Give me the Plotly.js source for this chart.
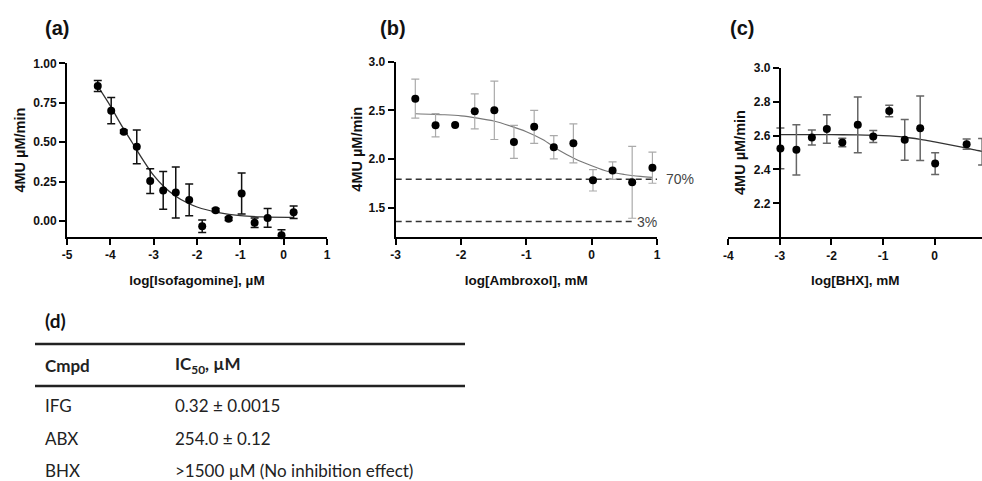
<!DOCTYPE html>
<html>
<head>
<meta charset="utf-8">
<script src="https://cdn.plot.ly/plotly-3.0.1.min.js"></script>
<style>
html,body{margin:0;padding:0;background:#fff;}
#chart{width:982px;height:481px;}
</style>
</head>
<body>
<div id="chart"></div>
<script>
// ---------- Panel (a): Isofagomine ----------
var xA = [-4.29, -3.98, -3.69, -3.39, -3.08, -2.78, -2.49, -2.18, -1.88, -1.57, -1.27, -0.97, -0.67, -0.37, -0.05, 0.23];
var yA = [0.856, 0.700, 0.567, 0.471, 0.254, 0.195, 0.182, 0.135, -0.032, 0.070, 0.015, 0.175, -0.010, 0.021, -0.089, 0.057];
var errA = [0.035, 0.083, 0.010, 0.107, 0.078, 0.120, 0.162, 0.100, 0.040, 0.010, 0.010, 0.130, 0.030, 0.060, 0.035, 0.040];
var fitAx = [-4.29, -4.0, -3.75, -3.5, -3.25, -3.0, -2.75, -2.5, -2.25, -2.0, -1.5, -1.0, -0.5, 0.23];
var fitAy = [0.855, 0.73, 0.61, 0.50, 0.39, 0.29, 0.215, 0.16, 0.12, 0.09, 0.055, 0.035, 0.027, 0.024];

// ---------- Panel (b): Ambroxol ----------
var xB = [-2.70, -2.39, -2.09, -1.79, -1.49, -1.19, -0.88, -0.58, -0.28, 0.02, 0.32, 0.62, 0.93];
var yB = [2.62, 2.346, 2.35, 2.49, 2.50, 2.175, 2.33, 2.12, 2.16, 1.78, 1.88, 1.76, 1.91];
var errB = [0.20, 0.12, 0.01, 0.18, 0.30, 0.17, 0.17, 0.12, 0.20, 0.11, 0.09, 0.37, 0.16];
var fitBx = [-2.7, -2.25, -2.0, -1.75, -1.5, -1.25, -1.0, -0.75, -0.5, -0.25, 0.0, 0.25, 0.5, 0.75, 0.93];
var fitBy = [2.465, 2.454, 2.443, 2.42, 2.39, 2.34, 2.28, 2.20, 2.09, 2.00, 1.93, 1.87, 1.84, 1.82, 1.81];
var ref70x = [-3, 1];
var ref70y = [1.79, 1.79];
var ref3x = [-3, 0.62];
var ref3y = [1.356, 1.356];
var refLabels = ['70%', '3%'];

// ---------- Panel (c): BHX ----------
var xC = [-2.99, -2.68, -2.38, -2.09, -1.79, -1.49, -1.19, -0.88, -0.58, -0.28, 0.01, 0.62, 0.92];
var yC = [2.524, 2.516, 2.588, 2.639, 2.559, 2.663, 2.594, 2.745, 2.575, 2.643, 2.435, 2.549, 2.504];
var errC = [0.12, 0.148, 0.044, 0.084, 0.025, 0.164, 0.035, 0.034, 0.12, 0.19, 0.064, 0.03, 0.078];
var fitCx = [-3.0, -2.0, -1.5, -1.0, -0.75, -0.5, -0.25, 0.0, 0.25, 0.5, 0.75, 0.92];
var fitCy = [2.605, 2.605, 2.604, 2.600, 2.595, 2.587, 2.576, 2.562, 2.548, 2.533, 2.517, 2.507];

// ---------- Tick labels ----------
var ticksAx = [-5, -4, -3, -2, -1, 0, 1];
var ticksAy = [0, 0.25, 0.5, 0.75, 1.0];
var ticksBx = [-3, -2, -1, 0, 1];
var ticksBy = [1.5, 2.0, 2.5, 3.0];
var ticksCx = [-4, -3, -2, -1, 0, 1];
var ticksCy = [2.2, 2.4, 2.6, 2.8, 3.0];

// ---------- Panel titles ----------
var panelLabels = ['(a)', '(b)', '(c)', '(d)'];
var xTitles = ['log[Isofagomine], µM', 'log[Ambroxol], mM', 'log[BHX], mM'];
var yTitle = '4MU µM/min';

// ---------- Table (d) ----------
var tableHeader = ['Cmpd', 'IC<sub>50</sub>, µM'];
var tableCmpd = ['IFG', 'ABX', 'BHX'];
var tableIC50 = ['0.32 ± 0.0015', '254.0 ± 0.12', '>1500 µM (No inhibition effect)'];

var W = 982, H = 481;
function px(x){ return x / W; }
function py(y){ return 1 - y / H; }
function b(s){ return '<b>' + s + '</b>'; }

var AF = 'Liberation Sans, Arial, sans-serif';
var TF = 'Lato, Open Sans, sans-serif';

function pts(x, y, err, xa, ya, ecol, ethick) {
  return {
    type: 'scatter', mode: 'markers', x: x, y: y, xaxis: xa, yaxis: ya,
    marker: {color: '#000', size: 8},
    error_y: {type: 'data', array: err, visible: true, color: ecol, thickness: ethick, width: 4},
    cliponaxis: false, showlegend: false, hoverinfo: 'skip'
  };
}
function fit(x, y, xa, ya, col, w) {
  return {
    type: 'scatter', mode: 'lines', x: x, y: y, xaxis: xa, yaxis: ya,
    line: {color: col, width: w, shape: 'spline', smoothing: 0.8}, showlegend: false, hoverinfo: 'skip'
  };
}
function dashed(x, y) {
  return {type: 'scatter', mode: 'lines', x: x, y: y, xaxis: 'x2', yaxis: 'y2',
    line: {color: '#333', width: 1.5, dash: '6px,4px'}, showlegend: false, hoverinfo: 'skip'};
}

var data = [
  fit(fitAx, fitAy, 'x', 'y', '#333', 1.3),
  pts(xA, yA, errA, 'x', 'y', '#111', 1.5),
  dashed(ref70x, ref70y),
  dashed(ref3x, ref3y),
  fit(fitBx, fitBy, 'x2', 'y2', '#777', 1.1),
  pts(xB, yB, errB, 'x2', 'y2', '#aaa', 1.2),
  fit(fitCx, fitCy, 'x3', 'y3', '#333', 1.3),
  pts(xC, yC, errC, 'x3', 'y3', '#666', 1.5)
];

var tickFont = {family: AF, size: 12, color: '#111'};
var xTitleFont = {family: AF, size: 13.5, color: '#111'};
var yTitleFont = {family: AF, size: 14.5, color: '#111'};

function xax(domain, range, ticks, anchor, title) {
  return {
    domain: domain, range: range, anchor: anchor,
    tickmode: 'array', tickvals: ticks, ticktext: ticks.map(function(v){ return b(String(v)); }),
    showline: true, linecolor: '#000', linewidth: 2,
    ticks: 'outside', ticklen: 6, tickwidth: 2, tickcolor: '#000',
    showgrid: false, zeroline: false, tickfont: tickFont,
    title: {text: b(title), font: xTitleFont, standoff: 14},
    automargin: false, fixedrange: true
  };
}
function yax(domain, range, ticks, fmt, anchor, standoff) {
  return {
    domain: domain, range: range, anchor: anchor,
    tickmode: 'array', tickvals: ticks, ticktext: ticks.map(function(v){ return b(v.toFixed(fmt)); }),
    showline: true, linecolor: '#000', linewidth: 2,
    ticks: 'outside', ticklen: 6, tickwidth: 2, tickcolor: '#000',
    showgrid: false, zeroline: false, tickfont: tickFont,
    title: {text: b(yTitle), font: yTitleFont, standoff: standoff},
    automargin: false, fixedrange: true
  };
}

var annotations = [];
var labelPos = [[43, 28], [378, 28], [728, 28]];
for (var i = 0; i < 3; i++) {
  annotations.push({xref: 'paper', yref: 'paper', x: px(labelPos[i][0]), y: py(labelPos[i][1]),
    xanchor: 'left', yanchor: 'middle', showarrow: false, text: b(panelLabels[i]),
    font: {family: AF, size: 20, color: '#111'}});
}
annotations.push({xref: 'paper', yref: 'paper', x: px(43), y: py(320),
  xanchor: 'left', yanchor: 'middle', showarrow: false, text: b(panelLabels[3]),
  font: {family: TF, size: 19, color: '#111'}});

// reference line labels in (b)
annotations.push({xref: 'paper', yref: 'y2', x: px(664), y: ref70y[0], xanchor: 'left', yanchor: 'middle',
  showarrow: false, text: refLabels[0], font: {family: AF, size: 14, color: '#444'}});
annotations.push({xref: 'paper', yref: 'y2', x: px(635), y: ref3y[0], xanchor: 'left', yanchor: 'middle',
  showarrow: false, text: refLabels[1], font: {family: AF, size: 14, color: '#444'}});

// table
annotations.push({xref: 'paper', yref: 'paper', x: px(43), y: py(365), xanchor: 'left', yanchor: 'middle',
  showarrow: false, text: b(tableHeader[0]), font: {family: TF, size: 17, color: '#222'}});
annotations.push({xref: 'paper', yref: 'paper', x: px(173), y: py(365), xanchor: 'left', yanchor: 'middle',
  showarrow: false, text: b(tableHeader[1]), font: {family: TF, size: 17, color: '#222'}});
var rowY = [405, 438, 470];
for (var r = 0; r < tableCmpd.length; r++) {
  annotations.push({xref: 'paper', yref: 'paper', x: px(43), y: py(rowY[r]), xanchor: 'left', yanchor: 'middle',
    showarrow: false, text: tableCmpd[r], font: {family: TF, size: 17, color: '#222'}});
  annotations.push({xref: 'paper', yref: 'paper', x: px(173), y: py(rowY[r]), xanchor: 'left', yanchor: 'middle',
    showarrow: false, text: tableIC50[r], font: {family: TF, size: 17, color: '#222'}});
}

var shapes = [
  {type: 'line', xref: 'paper', yref: 'paper', x0: px(35), x1: px(465), y0: py(344), y1: py(344),
   line: {color: '#222', width: 2.5}},
  {type: 'line', xref: 'paper', yref: 'paper', x0: px(35), x1: px(465), y0: py(386), y1: py(386),
   line: {color: '#222', width: 2.5}}
];

var yC3 = yax([py(237.3), py(67.7)], [2.0, 3.0], ticksCy, 1, 'free', 4);
yC3.position = px(779.9);

var layout = {
  width: W, height: H,
  margin: {l: 0, r: 0, t: 0, b: 0},
  paper_bgcolor: '#fff', plot_bgcolor: 'rgba(0,0,0,0)',
  showlegend: false,
  xaxis: xax([px(67), px(327)], [-5, 1], ticksAx, 'y', xTitles[0]),
  yaxis: yax([py(237), py(63.3)], [-0.1, 1.0], ticksAy, 2, 'x', 4),
  xaxis2: xax([px(395.7), px(657)], [-3, 1], ticksBx, 'y2', xTitles[1]),
  yaxis2: yax([py(236.7), py(61.7)], [1.2, 3.0], ticksBy, 1, 'x2', 3),
  xaxis3: xax([px(728.3), 1], [-4, 0.918], ticksCx, 'y3', xTitles[2]),
  yaxis3: yC3,
  annotations: annotations,
  shapes: shapes
};

Plotly.newPlot('chart', data, layout, {displayModeBar: false, staticPlot: true});
</script>
</body>
</html>
